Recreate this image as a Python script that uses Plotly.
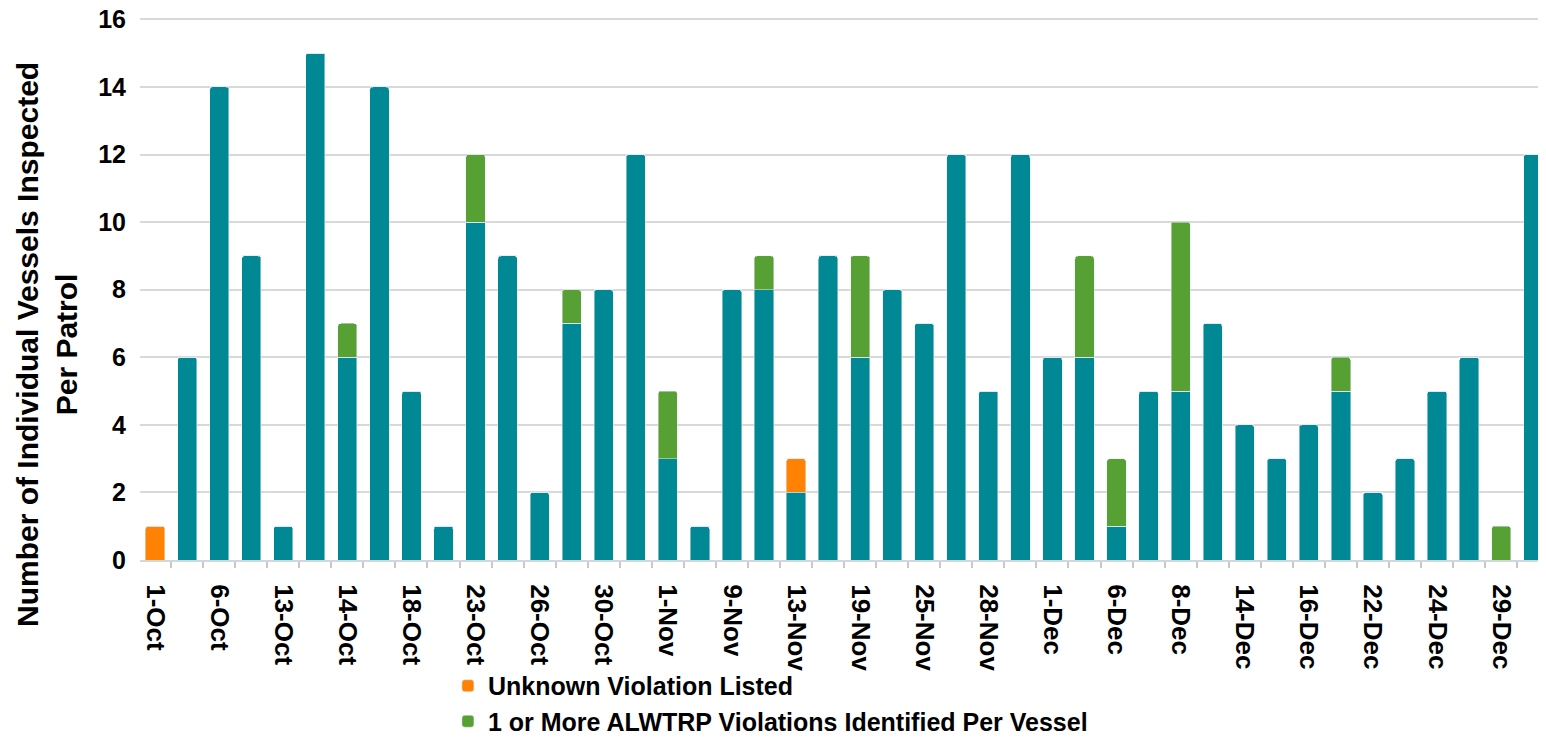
import plotly.graph_objects as go

# one bar per patrol, in order; only every other patrol has a date label
inspected_no_violation = [0, 6, 14, 9, 1, 15, 6, 14, 5, 1, 10, 9, 2, 7, 8, 12, 3, 1, 8, 8, 2, 9,
                          6, 8, 7, 12, 5, 12, 6, 6, 1, 5, 5, 7, 4, 3, 4, 5, 2, 3, 5, 6, 0, 12]
unknown_violation = [1, 0, 0, 0, 0, 0, 0, 0, 0, 0, 0, 0, 0, 0, 0, 0, 0, 0, 0, 0, 1, 0,
                     0, 0, 0, 0, 0, 0, 0, 0, 0, 0, 0, 0, 0, 0, 0, 0, 0, 0, 0, 0, 0, 0]
alwtrp_violation = [0, 0, 0, 0, 0, 0, 1, 0, 0, 0, 2, 0, 0, 1, 0, 0, 2, 0, 0, 1, 0, 0,
                    3, 0, 0, 0, 0, 0, 0, 3, 2, 0, 5, 0, 0, 0, 0, 1, 0, 0, 0, 0, 1, 0]
tick_labels = ["1-Oct", "6-Oct", "13-Oct", "14-Oct", "18-Oct", "23-Oct", "26-Oct", "30-Oct",
               "1-Nov", "9-Nov", "13-Nov", "19-Nov", "25-Nov", "28-Nov", "1-Dec", "6-Dec",
               "8-Dec", "14-Dec", "16-Dec", "22-Dec", "24-Dec", "29-Dec"]
y_ticks = [0, 2, 4, 6, 8, 10, 12, 14, 16]

patrol = list(range(len(inspected_no_violation)))

teal = "#008995"
orange = "#FF8204"
green = "#57A033"
font = "Liberation Sans, Arial, sans-serif"

fig = go.Figure()
fig.add_trace(go.Bar(x=patrol, y=inspected_no_violation, marker_color=teal,
                     name="Vessels Inspected", showlegend=False))
fig.add_trace(go.Bar(x=patrol, y=unknown_violation, marker_color=orange,
                     name="<b>Unknown Violation Listed</b>"))
fig.add_trace(go.Bar(x=patrol, y=alwtrp_violation, marker_color=green,
                     name="<b>1 or More ALWTRP Violations Identified Per Vessel</b>"))

# the page body adds an 8px offset, so the figure is sized to fill the rest of the window
fig.update_layout(
    width=1538, height=730,
    barmode="stack", bargap=0.4, barcornerradius=3,
    plot_bgcolor="white", paper_bgcolor="white",
    margin=dict(l=132, r=0, t=10, b=178, autoexpand=False),
    font=dict(family=font, color="black"),
    legend=dict(x=0.219, y=-0.19, xanchor="left", yanchor="top", traceorder="normal",
                font=dict(size=25, family=font), itemwidth=30, tracegroupgap=0,
                bgcolor="rgba(0,0,0,0)"),
)

fig.update_xaxes(
    range=[-0.47, 43.4], automargin=False,
    tickmode="array", tickvals=patrol[::2], ticktext=[f"<b>{t}</b>" for t in tick_labels],
    tickangle=90, tickfont=dict(size=26, family=font),
    ticks="", showgrid=False,
    showline=True, linecolor="#d0d8dc", linewidth=2,
    minor=dict(tickmode="array", tickvals=[p - 0.5 for p in patrol] + [patrol[-1] + 0.5],
               ticks="outside", ticklen=6, tickcolor="#c8c8c8", tickwidth=1.5),
    ticklabelstandoff=17,
)
fig.update_yaxes(
    range=[0, 16.04], automargin=False,
    tickmode="array", tickvals=y_ticks, ticktext=[f"<b>{v}</b>" for v in y_ticks],
    tickfont=dict(size=25, family=font),
    ticklabeloverflow="allow",
    showgrid=True, gridcolor="#d9d9d9", gridwidth=2,
    zeroline=False, ticklabelstandoff=13,
)

fig.add_annotation(
    text="<b>Number of Individual Vessels Inspected<br>Per Patrol</b>",
    xref="paper", yref="paper", x=-0.066, y=0.397, xanchor="center", yanchor="middle",
    textangle=-90, showarrow=False, font=dict(size=30, family=font),
)

fig.write_html("out.html")
